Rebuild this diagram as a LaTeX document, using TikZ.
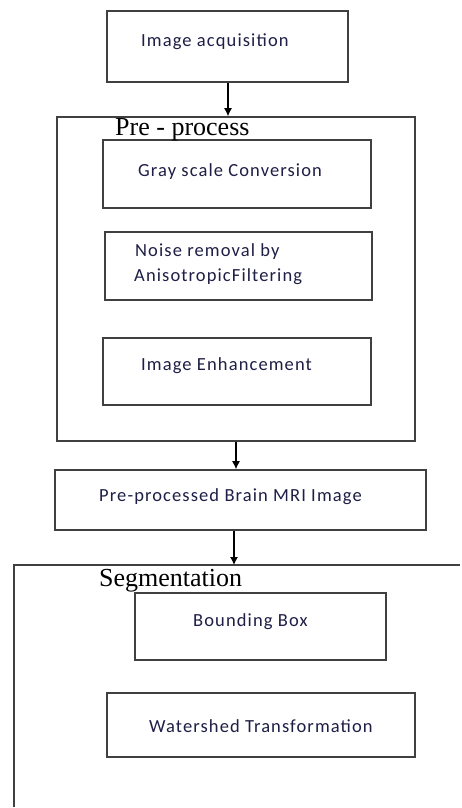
\documentclass[tikz,border=0pt]{standalone}
\usepackage{fontspec}
\usetikzlibrary{arrows.meta}
\setmainfont{Carlito}[LetterSpace=6]
\newfontfamily\serifti{Liberation Serif}
\begin{document}
\begin{tikzpicture}[x=1pt,y=-1pt,
  box/.style={draw=linegray, line width=1.6pt, minimum width=#1, inner sep=0pt},
  txt/.style={anchor=west, inner sep=0pt, text=textnavy, font=\fontsize{18.5}{21}\selectfont},
  ttl/.style={anchor=west, inner sep=0pt, text=black, font=\serifti\fontsize{26}{28}\selectfont},
  arr/.style={draw=black, line width=1.2pt, -{Latex[length=8pt,width=8pt]}}]
\definecolor{linegray}{RGB}{64,64,64}
\definecolor{textnavy}{RGB}{30,30,70}
\useasboundingbox (0,0) rectangle (462,808);
\fill[white] (0,0) rectangle (462,808);
% boxes
\node[box=241pt, minimum height=71pt] (acq) at (227.5,46.5) {};
\node[box=358pt, minimum height=324pt] (pre) at (236,279) {};
\node[box=268pt, minimum height=68pt] (gray) at (237,174) {};
\node[box=267pt, minimum height=68pt] (noise) at (238.5,266) {};
\node[box=268pt, minimum height=67pt] (enh) at (237,371.5) {};
\node[box=371pt, minimum height=60pt] (ppm) at (240.5,500) {};
\coordinate (segtop) at (234,565);
\draw[draw=linegray, line width=1.6pt] (14,807) -- (14,565) -- (460,565);
\node[box=251pt, minimum height=67pt] (bb) at (260.5,626.5) {};
\node[box=308pt, minimum height=64pt] (ws) at (261,725) {};
% texts
\node[txt] (tacq) at (141,42) {Image acquisition};
\node[ttl] (tpre) at (115,130) {Pre - process};
\node[txt] (tgray) at (138,172) {Gray scale Conversion};
\node[txt] (tnoise1) at (135,252) {Noise removal by};
\node[txt] (tnoise2) at (134,277) {AnisotropicFiltering};
\node[txt] (tenh) at (141,366) {Image Enhancement};
\node[txt] (tppm) at (99,497) {Pre-processed Brain MRI Image};
\node[ttl] (tseg) at (99,581) {Segmentation};
\node[txt] (tbb) at (193,622) {Bounding Box};
\node[txt] (tws) at (149,726) {Watershed Transformation};
% arrows
\coordinate (xa) at (228,0);
\coordinate (xb) at (236,0);
\draw[arr] (acq.south -| xa) -- (pre.north -| xa);
\draw[arr] (pre.south -| xb) -- (ppm.north -| xb);
\draw[arr] (ppm.south -| segtop) -- (segtop);
\end{tikzpicture}
\end{document}
